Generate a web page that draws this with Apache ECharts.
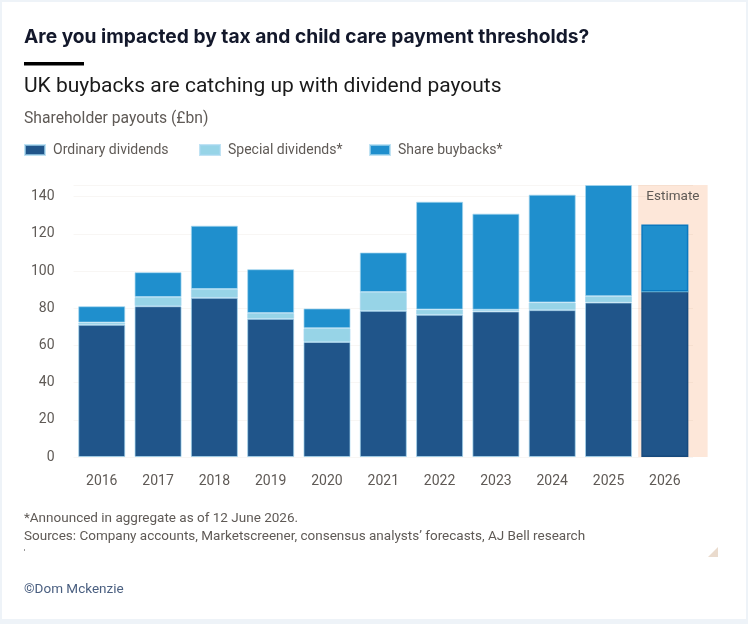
<!DOCTYPE html>
<html>
<head>
<meta charset="utf-8">
<script src="https://cdn.jsdelivr.net/npm/echarts@6/dist/echarts.min.js"></script>
<style>
  html, body { margin: 0; padding: 0; background: #eef3f8; }
  #card { position: absolute; left: 2px; top: 2px; width: 744px; height: 617px; background: #ffffff; }
  #chart { position: absolute; left: 0; top: 0; width: 748px; height: 624px; }
</style>
</head>
<body>
<div id="card"></div>
<div id="chart"></div>
<script>
const years = ['2016','2017','2018','2019','2020','2021','2022','2023','2024','2025','2026'];
const ordinaryDividends = [71.1, 81.1, 85.6, 74.3, 61.9, 78.6, 76.5, 78.3, 79.0, 83.1, 89.0];
const specialDividends = [1.2, 4.9, 4.7, 3.1, 7.4, 10.1, 2.8, 0.9, 4.1, 3.4, 0];
const shareBuybacks = [8.8, 13.4, 34.1, 23.6, 10.6, 21.3, 58.0, 51.7, 58.0, 59.8, 36.1];
const seriesNames = ['Ordinary dividends', 'Special dividends*', 'Share buybacks*'];
const estimateYear = '2026';

const FONT = 'Roboto';
const GRAY = '#5f5a56';
const colors = ['#20558a', '#97d4e7', '#1f8fcd'];
const estimateBorders = ['#174a7d', '#97d4e7', '#0a78bf'];

const chart = echarts.init(document.getElementById('chart'), null, { renderer: 'canvas' });

function makeData(values, idx) {
  return values.map((v, i) => years[i] === estimateYear
    ? { value: v, itemStyle: { borderColor: estimateBorders[idx], borderWidth: 1.5 } }
    : v);
}

const seriesValues = [ordinaryDividends, specialDividends, shareBuybacks];
const series = seriesValues.map((vals, idx) => ({
  name: seriesNames[idx],
  type: 'bar',
  stack: 'total',
  barCategoryGap: '16.5%',
  itemStyle: { color: colors[idx], borderColor: 'rgba(165,215,240,0.7)', borderWidth: 1 },
  emphasis: { disabled: true },
  data: makeData(vals, idx),
  z: 3
}));

function legendAt(left, name) {
  return {
    left: left, top: 143,
    padding: 0,
    data: [name],
    icon: 'rect',
    itemWidth: 20, itemHeight: 10,
    selectedMode: false,
    textStyle: { fontFamily: FONT, fontSize: 14, color: GRAY, padding: [0, 0, 0, 3] }
  };
}

const textItems = [
  { x: 24, y: 37, text: 'Are you impacted by tax and child care payment thresholds?', font: 'bold 19.2px Inter', fill: '#13182b' },
  { x: 24, y: 87, text: 'UK buybacks are catching up with dividend payouts', font: '21px ' + FONT, fill: '#1a1a1a' },
  { x: 24, y: 119, text: 'Shareholder payouts (£bn)', font: '15.7px ' + FONT, fill: GRAY },
  { x: 24, y: 519, text: '*Announced in aggregate as of 12 June 2026.', font: '13.5px ' + FONT, fill: GRAY },
  { x: 24, y: 537, text: 'Sources: Company accounts, Marketscreener, consensus analysts\u2019 forecasts, AJ Bell research', font: '13.5px ' + FONT, fill: GRAY },
  { x: 24, y: 590, text: '\u00A9Dom Mckenzie', font: '13.5px ' + FONT, fill: '#4a5f80' }
];

const baseGraphic = textItems.map(t => ({
  type: 'text', x: t.x, y: t.y, silent: true,
  style: { text: t.text, font: t.font, fill: t.fill, verticalAlign: 'middle', align: 'left' }
})).concat([
  { type: 'rect', x: 24, y: 62, shape: { width: 60, height: 3.5 }, style: { fill: '#000' }, silent: true },
  { type: 'rect', x: 24, y: 549, shape: { width: 1, height: 2 }, style: { fill: '#999' }, silent: true },
  { type: 'polygon', shape: { points: [[718, 547], [718, 557], [708, 557]] }, style: { fill: '#eadbcd' }, silent: true }
]);

chart.setOption({
  animation: false,
  legend: [legendAt(24, seriesNames[0]), legendAt(199, seriesNames[1]), legendAt(369, seriesNames[2])],
  grid: { left: 73.6, right: 55, top: 185, bottom: 167, containLabel: false },
  xAxis: {
    type: 'category',
    data: years,
    axisLine: { show: false },
    axisTick: { show: false },
    axisLabel: { fontFamily: FONT, fontSize: 14, color: GRAY, margin: 17 }
  },
  yAxis: {
    type: 'value',
    min: 0,
    max: 'dataMax',
    interval: 20,
    axisLine: { show: false },
    axisTick: { show: false },
    axisLabel: { fontFamily: FONT, fontSize: 14, color: GRAY, margin: 19, showMaxLabel: false },
    splitLine: { show: true, lineStyle: { color: 'rgba(120,80,40,0.05)', width: 1 } }
  },
  series: series,
  graphic: baseGraphic
});

// Estimate shading, positioned through the axes' own scales
const cx = chart.convertToPixel({ xAxisIndex: 0 }, estimateYear);
const cxPrev = chart.convertToPixel({ xAxisIndex: 0 }, years[years.indexOf(estimateYear) - 1]);
const step = cx - cxPrev;
const yTop = chart.convertToPixel({ yAxisIndex: 0 }, ordinaryDividends.map((v, i) => v + specialDividends[i] + shareBuybacks[i]).reduce((a, b) => Math.max(a, b), 0));
const yBottom = chart.convertToPixel({ yAxisIndex: 0 }, 0);
const shadeLeft = cx - step / 2 + 1.5;
const shadeRight = cx + step * 0.76;

chart.setOption({
  graphic: baseGraphic.concat([
    { type: 'rect', x: shadeLeft, y: yTop, z: -10, silent: true,
      shape: { width: shadeRight - shadeLeft, height: yBottom - yTop },
      style: { fill: '#fde7d9' } },
    { type: 'text', x: (shadeLeft + shadeRight) / 2, y: yTop + 12, silent: true,
      style: { text: 'Estimate', font: '13.5px ' + FONT, fill: GRAY, align: 'center', verticalAlign: 'middle' } }
  ])
}, { replaceMerge: ['graphic'] });
</script>
</body>
</html>
